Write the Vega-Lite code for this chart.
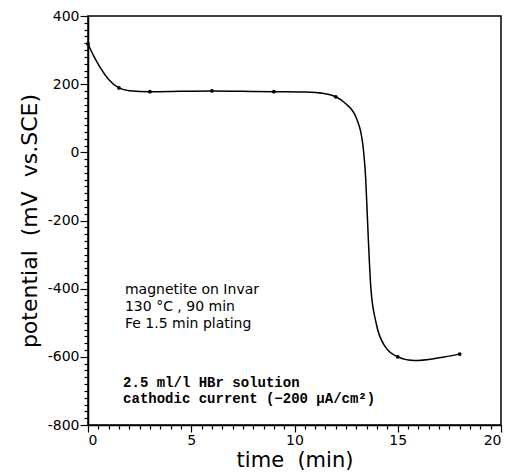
{
  "$schema": "https://vega.github.io/schema/vega-lite/v6.json",
  "width": 413,
  "height": 409,
  "autosize": {"type": "none"},
  "padding": {"left": 88, "top": 16, "right": 11, "bottom": 49},
  "background": "white",
  "config": {
    "view": {"stroke": "black", "strokeWidth": 1.5},
    "axis": {"grid": false, "domainColor": "black", "domainWidth": 1.5, "tickColor": "black", "labelColor": "black", "titleColor": "black", "labelFont": "DejaVu Sans", "titleFont": "DejaVu Sans", "titleFontWeight": "normal"}
  },
  "layer": [
    {
      "data": {"values": [
        {"t": 0, "p": 318}, {"t": 0.3, "p": 280}, {"t": 0.6, "p": 248}, {"t": 1.0, "p": 214},
        {"t": 1.5, "p": 189}, {"t": 2.0, "p": 181}, {"t": 3.0, "p": 178}, {"t": 4.5, "p": 179},
        {"t": 6.0, "p": 180}, {"t": 7.5, "p": 179}, {"t": 9.0, "p": 178}, {"t": 10.5, "p": 177},
        {"t": 11.5, "p": 172}, {"t": 12.0, "p": 163}, {"t": 12.5, "p": 142}, {"t": 13.0, "p": 100},
        {"t": 13.3, "p": 27}, {"t": 13.45, "p": -80}, {"t": 13.55, "p": -220}, {"t": 13.7, "p": -400},
        {"t": 13.95, "p": -500}, {"t": 14.4, "p": -571}, {"t": 15.0, "p": -600}, {"t": 15.8, "p": -611},
        {"t": 17.0, "p": -603}, {"t": 18.0, "p": -592}
      ]},
      "mark": {"type": "line", "color": "black", "strokeWidth": 1.5, "interpolate": "monotone"},
      "encoding": {
        "x": {"field": "t", "type": "quantitative", "scale": {"domain": [0, 20], "nice": false},
          "axis": {"title": "time\u00a0 (min)", "titleFontSize": 21, "titlePadding": 2, "labelFontSize": 14, "tickCount": 40, "labelExpr": "datum.value % 5 === 0 ? '' + datum.value : ''", "tickSize": {"condition": {"test": "datum.value % 5 === 0", "value": 7}, "value": 4}, "labelPadding": 1, "tickWidth": 1.2}},
        "y": {"field": "p", "type": "quantitative", "scale": {"domain": [-800, 400], "nice": false},
          "axis": {"title": "potential\u00a0 (mV\u00a0 vs.SCE)", "titleFontSize": 22, "titlePadding": 6, "labelFontSize": 14, "tickCount": 60, "labelExpr": "datum.value % 200 === 0 ? '' + datum.value : ''", "tickSize": {"condition": {"test": "datum.value % 200 === 0", "value": 8}, "value": 4}, "labelPadding": 1, "tickWidth": 1.2}}
      }
    },
    {
      "data": {"values": [
        {"t": 0, "p": 318}, {"t": 1.5, "p": 189}, {"t": 3.0, "p": 178}, {"t": 6.0, "p": 180},
        {"t": 9.0, "p": 178}, {"t": 12.0, "p": 163}, {"t": 15.0, "p": -600}, {"t": 18.0, "p": -592}
      ]},
      "mark": {"type": "point", "filled": true, "color": "black", "size": 14, "opacity": 1},
      "encoding": {
        "x": {"field": "t", "type": "quantitative"},
        "y": {"field": "p", "type": "quantitative"}
      }
    },
    {
      "data": {"values": [
        {"t": 1.79, "p": -416, "text": "magnetite on Invar"},
        {"t": 1.79, "p": -466, "text": "130 °C , 90 min"},
        {"t": 1.79, "p": -515, "text": "Fe 1.5 min plating"}
      ]},
      "mark": {"type": "text", "align": "left", "baseline": "alphabetic", "font": "DejaVu Sans", "fontSize": 14, "color": "black"},
      "encoding": {
        "x": {"field": "t", "type": "quantitative"},
        "y": {"field": "p", "type": "quantitative"},
        "text": {"field": "text"}
      }
    },
    {
      "data": {"values": [
        {"t": 1.7, "p": -688, "text": "2.5 ml/l HBr solution"},
        {"t": 1.7, "p": -735, "text": "cathodic current (−200 μA/cm²)"}
      ]},
      "mark": {"type": "text", "align": "left", "baseline": "alphabetic", "font": "Liberation Mono", "fontWeight": "bold", "fontSize": 14, "color": "black"},
      "encoding": {
        "x": {"field": "t", "type": "quantitative"},
        "y": {"field": "p", "type": "quantitative"},
        "text": {"field": "text"}
      }
    }
  ]
}
